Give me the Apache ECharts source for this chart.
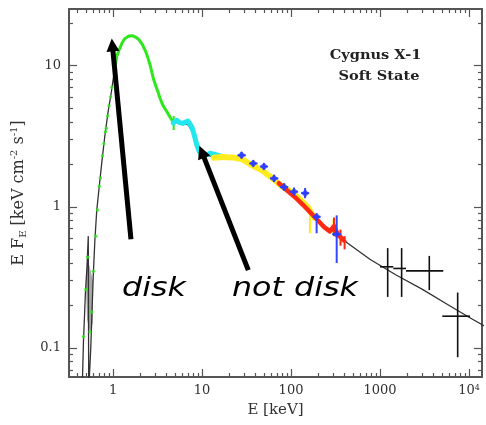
<!DOCTYPE html>
<html>
<head>
<meta charset="utf-8">
<script src="https://cdn.jsdelivr.net/npm/echarts@6/dist/echarts.min.js"></script>
<style>
  html, body { margin: 0; padding: 0; background: #fff; }
  #chart { width: 486px; height: 425px; }
</style>
</head>
<body>
<div id="chart"></div>
<script>
// ---- axes (energy in keV, flux E*F_E in keV cm^-2 s^-1) ----
const xRange = [0.32, 14000];
const yRange = [0.0623, 25.2];
const xMajorTicks = [1, 10, 100, 1000, 10000];
const xMinorTicks = [0.4, 0.5, 0.6, 0.7, 0.8, 0.9, 2, 3, 4, 5, 6, 7, 8, 9,
  20, 30, 40, 50, 60, 70, 80, 90, 200, 300, 400, 500, 600, 700, 800, 900,
  2000, 3000, 4000, 5000, 6000, 7000, 8000, 9000];
const yMajorTicks = [0.1, 1, 10];
const yMinorTicks = [0.07, 0.08, 0.09, 0.2, 0.3, 0.4, 0.5, 0.6, 0.7, 0.8, 0.9,
  2, 3, 4, 5, 6, 7, 8, 9, 20];

// ---- spectral model (continuous curve) ----
const modelCurve = [
  [0.45, 0.05], [0.465, 0.11], [0.49, 0.25], [0.51, 0.38], [0.527, 0.62], [0.533, 0.05],
  [0.548, 0.05], [0.562, 0.10], [0.58, 0.18], [0.60, 0.33], [0.625, 0.58], [0.655, 0.93],
  [0.70, 1.4], [0.75, 2.1], [0.81, 3.2], [0.88, 4.7], [0.95, 6.3], [1.0, 7.9], [1.1, 11.5],
  [1.2, 13.3], [1.3, 15.0], [1.45, 15.9], [1.6, 16.2], [1.8, 16.0], [2.0, 15.2], [2.2, 13.8],
  [2.4, 12.0], [2.6, 10.3], [2.84, 8.2], [3.1, 6.9], [3.37, 5.9], [3.7, 5.2], [4.0, 4.75],
  [4.4, 4.3], [4.8, 4.0], [5.2, 3.95], [6, 3.9], [7, 3.8], [8, 3.3], [9, 2.65], [10, 2.4],
  [12, 2.3], [16, 2.25], [22, 2.2], [30, 2.1], [40, 1.92], [55, 1.65], [75, 1.42],
  [100, 1.25], [130, 1.1], [170, 0.9], [220, 0.76], [300, 0.66], [390, 0.58], [770, 0.425],
  [1500, 0.33], [3000, 0.26], [6000, 0.2], [10000, 0.165], [15500, 0.141]
];
// shaded model uncertainty near the oxygen edge
const modelBand = [
  [0.495, 0.30], [0.515, 0.42], [0.545, 0.38], [0.595, 0.30], [0.592, 0.15], [0.55, 0.13], [0.51, 0.16]
];

// ---- data sets ----
const greenRise = [
  [0.464, 0.12], [0.494, 0.26], [0.52, 0.44], [0.551, 0.13], [0.577, 0.18], [0.60, 0.35],
  [0.64, 0.62], [0.67, 0.95], [0.70, 1.4], [0.72, 1.6], [0.76, 2.3], [0.79, 2.8], [0.82, 3.4],
  [0.84, 3.6], [0.87, 4.4], [0.90, 5.2], [0.94, 6.0], [0.97, 7.0]
];
const greenPeak = [
  [1.05, 9.6], [1.1, 11.6], [1.15, 12.6], [1.2, 13.4], [1.27, 14.6], [1.35, 15.5], [1.42, 15.9],
  [1.5, 16.2], [1.6, 16.3], [1.7, 16.2], [1.8, 15.9], [1.9, 15.5], [2.0, 15.0], [2.15, 14.0],
  [2.3, 12.8], [2.45, 11.5], [2.6, 10.2], [2.84, 8.1], [3.0, 7.3], [3.2, 6.5], [3.37, 5.9],
  [3.6, 5.3], [3.8, 5.0], [4.0, 4.75], [4.2, 4.5], [4.4, 4.3], [4.6, 4.1], [4.8, 4.0]
];
const cyanData = [
  [4.75, 3.92], [5.2, 4.1], [5.6, 3.95], [6.1, 3.9], [6.95, 4.05], [7.7, 3.67], [8.2, 3.2],
  [8.8, 2.7], [9.35, 2.45], [10.6, 2.3], [12.3, 2.4], [15, 2.32], [18, 2.25]
];
const yellowData = [
  [13.6, 2.23], [16.7, 2.25], [21.7, 2.24], [28, 2.18], [36, 1.98], [47, 1.82], [61, 1.6],
  [79, 1.4], [103, 1.26], [126, 1.13], [155, 0.99], [181, 0.84]
];
const redData = [
  [73, 1.47], [90, 1.31], [111, 1.17], [137, 1.03], [168, 0.90], [201, 0.80], [235, 0.72],
  [273, 0.67], [304, 0.73], [335, 0.64], [390, 0.58]
];
const blueData = [
  [27.8, 2.32], [37.6, 2.03], [49.6, 1.93], [64.5, 1.59], [83.7, 1.38], [108, 1.28],
  [144, 1.25], [194, 0.85], [326, 0.64]
];
// error bars: [E, F, Elow, Ehigh, Flow, Fhigh]
const blueErrors = [
  [27.8, 2.32, 25, 31, 2.2, 2.45], [37.6, 2.03, 34, 42, 1.93, 2.14], [49.6, 1.93, 45, 55, 1.83, 2.04],
  [64.5, 1.59, 58, 72, 1.5, 1.69], [83.7, 1.38, 75, 93, 1.3, 1.47], [108, 1.28, 97, 120, 1.2, 1.37],
  [144, 1.25, 130, 160, 1.15, 1.36], [194, 0.85, 175, 215, 0.65, 0.9], [326, 0.64, 290, 365, 0.40, 0.87]
];
const yellowErrors = [
  [163, 0.9, 163, 163, 0.65, 0.99], [300, 0.72, 300, 300, 0.62, 0.82]
];
const redErrors = [
  [304, 0.73, 290, 320, 0.62, 0.84], [360, 0.60, 345, 375, 0.53, 0.69], [400, 0.57, 380, 420, 0.50, 0.62]
];
const greenErrors = [
  [4.8, 4.0, 4.8, 4.8, 3.5, 4.4]
];
// high-energy upper points: [E, F, Elow, Ehigh, Flow, Fhigh]
const comptelPoints = [
  [1220, 0.376, 1000, 1410, 0.23, 0.51],
  [1750, 0.366, 1410, 1960, 0.23, 0.51],
  [3580, 0.352, 1960, 5140, 0.257, 0.449],
  [7460, 0.168, 5010, 10260, 0.086, 0.247]
];
// annotation arrows: [tailE, tailF, tipE, tipF]
const arrows = [
  [1.59, 0.59, 0.967, 15.6],
  [33.1, 0.356, 9.34, 2.71]
];

const frameColor = '#555';
const labelFont = { fontFamily: 'DejaVu Serif', fontSize: 13, color: '#333' };

function xAxisDef(position, ticks, tickLen, withLine, withLabels) {
  return {
    type: 'log', logBase: 10, position: position, min: xRange[0], max: xRange[1],
    axisLine: { show: withLine, onZero: false, lineStyle: { color: frameColor, width: 2 } },
    axisTick: { show: true, inside: true, length: tickLen, customValues: ticks,
      lineStyle: { color: frameColor, width: 1.2 } },
    axisLabel: withLabels ? Object.assign({
      customValues: ticks, margin: 7,
      formatter: v => (v >= 9999 ? '10{sup|4}' : String(v)),
      rich: { sup: { fontFamily: 'DejaVu Serif', fontSize: 8, color: '#333', verticalAlign: 'top', lineHeight: 14 } }
    }, labelFont) : { show: false },
    splitLine: { show: false }, minorTick: { show: false }
  };
}
function yAxisDef(position, ticks, tickLen, withLine, withLabels) {
  return {
    type: 'log', logBase: 10, position: position, min: yRange[0], max: yRange[1],
    axisLine: { show: withLine, onZero: false, lineStyle: { color: frameColor, width: 2 } },
    axisTick: { show: true, inside: true, length: tickLen, customValues: ticks,
      lineStyle: { color: frameColor, width: 1.2 } },
    axisLabel: withLabels ? Object.assign({ customValues: ticks, margin: 8,
      formatter: v => String(v) }, labelFont) : { show: false },
    splitLine: { show: false }, minorTick: { show: false }
  };
}

const xAxes = [
  xAxisDef('bottom', xMajorTicks, 8, true, true),
  xAxisDef('bottom', xMinorTicks, 4, false, false),
  xAxisDef('top', xMajorTicks, 8, true, false),
  xAxisDef('top', xMinorTicks, 4, false, false)
];
Object.assign(xAxes[0], {
  name: 'E [keV]', nameLocation: 'middle', nameGap: 25,
  nameTextStyle: { fontFamily: 'DejaVu Serif', fontSize: 15, color: '#333' }
});
const yAxes = [
  yAxisDef('left', yMajorTicks, 8, true, true),
  yAxisDef('left', yMinorTicks, 4, false, false),
  yAxisDef('right', yMajorTicks, 8, true, false),
  yAxisDef('right', yMinorTicks, 4, false, false)
];
Object.assign(yAxes[0], {
  name: 'E F{sub|E} [keV cm{sup|-2} s{sup|-1}]', nameLocation: 'middle', nameGap: 41,
  nameTextStyle: {
    fontFamily: 'DejaVu Serif', fontSize: 16, color: '#333', lineHeight: 19,
    rich: {
      sub: { fontFamily: 'DejaVu Serif', fontSize: 10, color: '#333', verticalAlign: 'bottom', lineHeight: 19 },
      sup: { fontFamily: 'DejaVu Serif', fontSize: 10, color: '#333', verticalAlign: 'top', lineHeight: 19 }
    }
  }
});

function errorBarSeries(name, data, color, width, z) {
  return {
    name: name, type: 'custom', data: data, z: z, clip: true,
    encode: { x: 0, y: 1 },
    renderItem: (params, api) => {
      const xl = api.coord([api.value(2), api.value(1)]);
      const xh = api.coord([api.value(3), api.value(1)]);
      const yl = api.coord([api.value(0), api.value(4)]);
      const yh = api.coord([api.value(0), api.value(5)]);
      const st = { stroke: color, lineWidth: width };
      return { type: 'group', children: [
        { type: 'line', shape: { x1: xl[0], y1: xl[1], x2: xh[0], y2: xh[1] }, style: st },
        { type: 'line', shape: { x1: yl[0], y1: yl[1], x2: yh[0], y2: yh[1] }, style: st }
      ] };
    }
  };
}

const thick = (color, w) => ({ color: color, width: w, cap: 'round', join: 'round' });

const option = {
  animation: false,
  backgroundColor: '#fff',
  grid: { left: 69, top: 9, right: 4, bottom: 48, containLabel: false },
  xAxis: xAxes,
  yAxis: yAxes,
  series: [
    {
      name: 'band', type: 'custom', data: [0], z: 1, clip: true,
      renderItem: (params, api) => ({
        type: 'polygon',
        shape: { points: modelBand.map(p => api.coord(p)) },
        style: { fill: '#a8a8a8' }
      })
    },
    { name: 'model', type: 'line', data: modelCurve, symbol: 'none', z: 2,
      lineStyle: { color: '#333', width: 1.3 } },
    { name: 'green points', type: 'scatter', data: greenRise, symbolSize: 3.5, z: 3,
      itemStyle: { color: '#2ee81c' } },
    { name: 'green', type: 'line', data: greenPeak, symbol: 'none', z: 4,
      lineStyle: thick('#2ee81c', 3) },
    errorBarSeries('green err', greenErrors, '#2ee81c', 2, 4),
    { name: 'cyan', type: 'line', data: cyanData, symbol: 'none', z: 5,
      lineStyle: thick('#22e6f0', 5) },
    { name: 'yellow', type: 'line', data: yellowData, symbol: 'none', z: 5,
      lineStyle: thick('#ffec1e', 6) },
    errorBarSeries('yellow err', yellowErrors, '#ffec1e', 2, 5),
    { name: 'red', type: 'line', data: redData, symbol: 'none', z: 6,
      lineStyle: thick('#ff2810', 4.5) },
    errorBarSeries('red err', redErrors, '#ff2810', 2, 6),
    errorBarSeries('blue err', blueErrors, '#3048ff', 2, 7),
    { name: 'blue', type: 'scatter', data: blueData, symbol: 'diamond', symbolSize: 8, z: 7,
      itemStyle: { color: '#2a3cff' } },
    errorBarSeries('comptel', comptelPoints, '#111', 1.6, 8),
    {
      name: 'arrows', type: 'custom', data: arrows, z: 10, clip: false,
      encode: { x: 0, y: 1 },
      renderItem: (params, api) => {
        const t = api.coord([api.value(0), api.value(1)]);
        const h = api.coord([api.value(2), api.value(3)]);
        const dx = h[0] - t[0], dy = h[1] - t[1];
        const len = Math.hypot(dx, dy);
        const ux = dx / len, uy = dy / len;
        const headLen = 13, headHalf = 6.5;
        const bx = h[0] - ux * headLen, by = h[1] - uy * headLen;
        return { type: 'group', children: [
          { type: 'line', shape: { x1: t[0], y1: t[1], x2: bx + ux * 2, y2: by + uy * 2 },
            style: { stroke: '#000', lineWidth: 5 } },
          { type: 'polygon', shape: { points: [[h[0], h[1]],
              [bx - uy * headHalf, by + ux * headHalf], [bx + uy * headHalf, by - ux * headHalf]] },
            style: { fill: '#000' } }
        ] };
      }
    }
  ],
  graphic: [
    { type: 'text', x: 375.5, y: 55.5, scaleX: 1.12, z: 20,
      style: { text: 'Cygnus X-1', font: 'bold 13px "DejaVu Serif"', fill: '#222',
        textAlign: 'center', textVerticalAlign: 'middle' } },
    { type: 'text', x: 379, y: 77, scaleX: 1.12, z: 20,
      style: { text: 'Soft State', font: 'bold 13px "DejaVu Serif"', fill: '#222',
        textAlign: 'center', textVerticalAlign: 'middle' } },
    { type: 'text', x: 122, y: 289, scaleX: 1.22, z: 20,
      style: { text: 'disk', font: 'italic 26px "DejaVu Sans"', fill: '#000',
        textAlign: 'left', textVerticalAlign: 'middle' } },
    { type: 'text', x: 232, y: 289, scaleX: 1.22, z: 20,
      style: { text: 'not disk', font: 'italic 26px "DejaVu Sans"', fill: '#000',
        textAlign: 'left', textVerticalAlign: 'middle' } }
  ]
};

const chart = echarts.init(document.getElementById('chart'), null, { renderer: 'canvas' });
chart.setOption(option);
</script>
</body>
</html>
